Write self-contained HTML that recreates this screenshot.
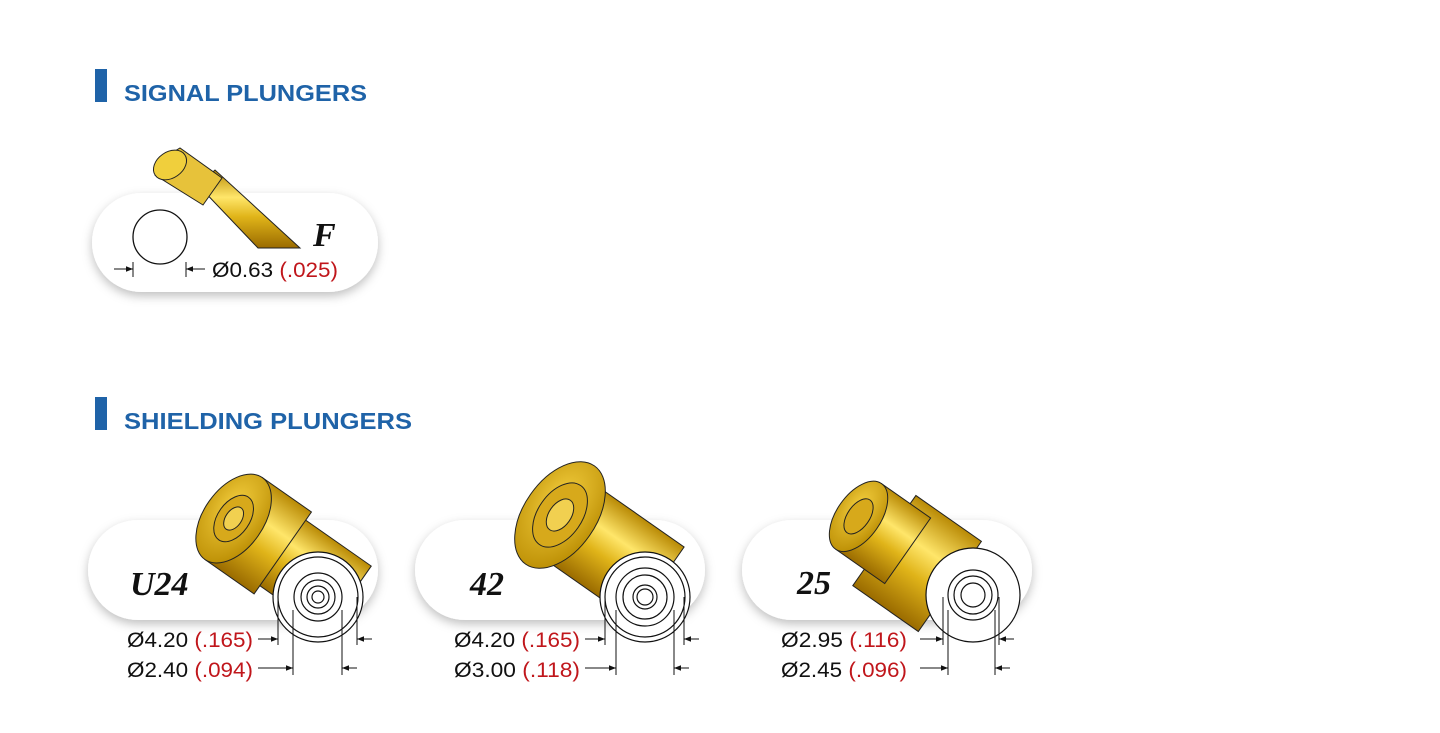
<!DOCTYPE html>
<html><head><meta charset="utf-8"><style>
body{margin:0;background:#fff;}
svg{display:block}
.h{font-family:"Liberation Sans",sans-serif;font-weight:bold;fill:#1f63a8;font-size:23px}
.d{font-family:"Liberation Sans",sans-serif;font-size:21px;fill:#111}
.r{fill:#c0161b}
.n{font-family:"Liberation Serif",serif;font-weight:bold;font-style:italic;font-size:34px;fill:#111}
</style></head><body>
<svg width="1440" height="733" viewBox="0 0 1440 733" xmlns="http://www.w3.org/2000/svg">
<defs>
<linearGradient id="g" x1="0" y1="0" x2="0" y2="1">
<stop offset="0" stop-color="#b98a05"/><stop offset="0.35" stop-color="#ffe66a"/><stop offset="0.6" stop-color="#e0b419"/><stop offset="1" stop-color="#9a6b00"/></linearGradient>
<radialGradient id="f" cx="0.4" cy="0.4" r="0.7"><stop offset="0" stop-color="#f5d040"/><stop offset="1" stop-color="#b88a00"/></radialGradient>
<filter id="sh" x="-10%" y="-20%" width="120%" height="150%"><feDropShadow dx="0" dy="4" stdDeviation="5" flood-color="#000" flood-opacity="0.25"/></filter>
<marker id="a" viewBox="0 0 10 10" refX="10" refY="5" markerWidth="7" markerHeight="7" orient="auto"><path d="M0,1 L10,5 L0,9 z" fill="#111"/></marker>
</defs>
<rect x="95" y="69" width="12" height="33" fill="#1f63a8"/>
<text class="h" x="124" y="101" textLength="243" lengthAdjust="spacingAndGlyphs">SIGNAL PLUNGERS</text>
<rect x="95" y="397" width="12" height="33" fill="#1f63a8"/>
<text class="h" x="124" y="429" textLength="288" lengthAdjust="spacingAndGlyphs">SHIELDING PLUNGERS</text>

<!-- signal pill -->
<rect x="92" y="193" width="286" height="99" rx="49.5" fill="#fff" filter="url(#sh)"/>
<g stroke="#222" stroke-width="1">
<polygon points="198,185 215,170 300,248 258,248" fill="url(#g)"/>
<polygon points="160,160 180,148 222,178 203,205 155,175" fill="#e7c23a"/>
<ellipse cx="170" cy="165" rx="18" ry="13" transform="rotate(-35 170 165)" fill="#f0cf3c"/>
</g>
<circle cx="160" cy="237" r="27" fill="#fff" stroke="#111" stroke-width="1.3"/>
<g stroke="#111" stroke-width="1"><line x1="133" y1="262" x2="133" y2="277"/><line x1="186" y1="262" x2="186" y2="277"/><line x1="114" y1="269" x2="133" y2="269" marker-end="url(#a)"/><line x1="205" y1="269" x2="186" y2="269" marker-end="url(#a)"/></g>
<text class="n" x="313" y="246" style="font-size:34px">F</text>
<text class="d" x="212" y="277" textLength="126" lengthAdjust="spacingAndGlyphs">Ø0.63 <tspan class="r">(.025)</tspan></text>

<!-- shield pills -->
<g filter="url(#sh)">
<rect x="88" y="520" width="290" height="100" rx="50" fill="#fff"/>
<rect x="415" y="520" width="290" height="100" rx="50" fill="#fff"/>
<rect x="742" y="520" width="290" height="100" rx="50" fill="#fff"/>
</g>

<g stroke="#222" stroke-width="1">
<g transform="rotate(35 250 530)">
<rect x="250" y="490" width="120" height="80" fill="url(#g)"/>
<rect x="230" y="480" width="60" height="100" fill="url(#g)"/>
<ellipse cx="230" cy="530" rx="30" ry="50" fill="url(#f)"/>
<ellipse cx="230" cy="530" rx="16" ry="26" fill="#d7a91b"/>
<ellipse cx="230" cy="530" rx="8" ry="13" fill="#f1d050"/>
</g>
</g>
<g stroke="#222" stroke-width="1">
<g transform="rotate(35 560 515)">
<rect x="560" y="470" width="120" height="90" fill="url(#g)"/>
<ellipse cx="560" cy="515" rx="36" ry="60" fill="url(#f)"/>
<ellipse cx="560" cy="515" rx="22" ry="36" fill="#d7a91b"/>
<ellipse cx="560" cy="515" rx="11" ry="18" fill="#f1d050"/>
</g>
</g>
<g stroke="#222" stroke-width="1">
<g transform="rotate(35 870 500)">
<rect x="905" y="470" width="80" height="110" fill="url(#g)"/>
<rect x="870" y="480" width="60" height="80" fill="url(#g)"/>
<ellipse cx="870" cy="520" rx="22" ry="40" fill="url(#f)"/>
<ellipse cx="870" cy="520" rx="11" ry="20" fill="#d7a91b"/>
</g>
</g>

<g fill="#fff" stroke="#111" stroke-width="1.2">
<circle cx="318" cy="597" r="45"/><circle cx="318" cy="597" r="40" fill="none"/><circle cx="318" cy="597" r="24" fill="none"/><circle cx="318" cy="597" r="17" fill="none"/><circle cx="318" cy="597" r="11" fill="none"/><circle cx="318" cy="597" r="6" fill="none"/>
<circle cx="645" cy="597" r="45"/><circle cx="645" cy="597" r="40" fill="none"/><circle cx="645" cy="597" r="29" fill="none"/><circle cx="645" cy="597" r="22" fill="none"/><circle cx="645" cy="597" r="12" fill="none"/><circle cx="645" cy="597" r="8" fill="none"/>
<circle cx="973" cy="595" r="47"/><circle cx="973" cy="595" r="25" fill="none"/><circle cx="973" cy="595" r="19" fill="none"/><circle cx="973" cy="595" r="12" fill="none"/>
</g>
<g stroke="#111" stroke-width="1">
<line x1="278" y1="597" x2="278" y2="645"/><line x1="357" y1="597" x2="357" y2="645"/><line x1="258" y1="639" x2="278" y2="639" marker-end="url(#a)"/><line x1="372" y1="639" x2="357" y2="639" marker-end="url(#a)"/>
<line x1="293" y1="610" x2="293" y2="675"/><line x1="342" y1="610" x2="342" y2="675"/><line x1="258" y1="668" x2="293" y2="668" marker-end="url(#a)"/><line x1="357" y1="668" x2="342" y2="668" marker-end="url(#a)"/>
<line x1="605" y1="597" x2="605" y2="645"/><line x1="684" y1="597" x2="684" y2="645"/><line x1="585" y1="639" x2="605" y2="639" marker-end="url(#a)"/><line x1="699" y1="639" x2="684" y2="639" marker-end="url(#a)"/>
<line x1="616" y1="610" x2="616" y2="675"/><line x1="674" y1="610" x2="674" y2="675"/><line x1="585" y1="668" x2="616" y2="668" marker-end="url(#a)"/><line x1="689" y1="668" x2="674" y2="668" marker-end="url(#a)"/>
<line x1="943" y1="597" x2="943" y2="645"/><line x1="999" y1="597" x2="999" y2="645"/><line x1="920" y1="639" x2="943" y2="639" marker-end="url(#a)"/><line x1="1014" y1="639" x2="999" y2="639" marker-end="url(#a)"/>
<line x1="948" y1="610" x2="948" y2="675"/><line x1="995" y1="610" x2="995" y2="675"/><line x1="920" y1="668" x2="948" y2="668" marker-end="url(#a)"/><line x1="1010" y1="668" x2="995" y2="668" marker-end="url(#a)"/>
</g>
<text class="n" x="130" y="595">U24</text>
<text class="n" x="470" y="595">42</text>
<text class="n" x="797" y="594">25</text>
<text class="d" x="127" y="647" textLength="126" lengthAdjust="spacingAndGlyphs">Ø4.20 <tspan class="r">(.165)</tspan></text>
<text class="d" x="127" y="677" textLength="126" lengthAdjust="spacingAndGlyphs">Ø2.40 <tspan class="r">(.094)</tspan></text>
<text class="d" x="454" y="647" textLength="126" lengthAdjust="spacingAndGlyphs">Ø4.20 <tspan class="r">(.165)</tspan></text>
<text class="d" x="454" y="677" textLength="126" lengthAdjust="spacingAndGlyphs">Ø3.00 <tspan class="r">(.118)</tspan></text>
<text class="d" x="781" y="647" textLength="126" lengthAdjust="spacingAndGlyphs">Ø2.95 <tspan class="r">(.116)</tspan></text>
<text class="d" x="781" y="677" textLength="126" lengthAdjust="spacingAndGlyphs">Ø2.45 <tspan class="r">(.096)</tspan></text>
</svg>
</body></html>
